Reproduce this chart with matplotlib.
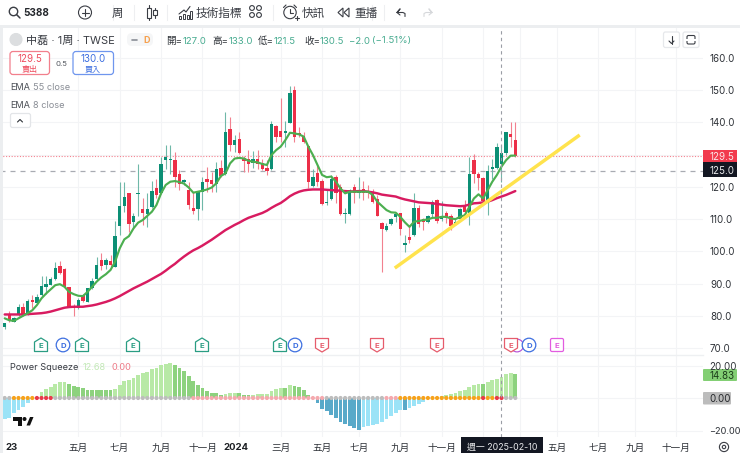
"""Weekly 5388 candles with EMA 8/55 and a Power Squeeze pane, TradingView look."""
import matplotlib
matplotlib.use("Agg")
import matplotlib.pyplot as plt
from matplotlib.patches import Circle, FancyBboxPatch, Polygon, Rectangle

plt.rcParams["font.family"] = ["Inter", "Noto Sans CJK TC", "DejaVu Sans"]

# weekly bars, oldest first
opens = [76.6, 80.5, 78.1, 80.1, 82.8, 80.5, 84.9, 84.0, 86.4, 88.8,
         89.7, 91.3, 95.4, 94.4, 89.0, 83.1, 82.3, 86.4, 84.4, 88.6,
         91.4, 97.3, 95.8, 97.1, 95.2, 107.8, 114.0, 118.0, 109.0, 117.7,
         113.0, 111.6, 113.8, 119.5, 118.0, 128.3, 128.4, 128.3, 124.0, 121.4,
         119.0, 113.3, 113.0, 118.5, 122.5, 122.1, 120.9, 125.9, 124.0, 138.0,
         133.0, 135.0, 129.0, 128.5, 127.5, 128.5, 127.5, 126.0, 125.4, 138.9,
         137.4, 136.6, 139.9, 150.0, 136.6, 135.8, 132.7, 120.3, 124.4, 121.9,
         114.9, 116.1, 123.0, 120.0, 111.6, 111.6, 120.0, 118.2, 119.3, 118.7,
         118.0, 116.2, 108.7, 106.6, 108.4, 110.6, 112.0, 102.1, 104.5, 105.0,
         113.5, 110.0, 109.2, 111.5, 115.9, 110.0, 112.0, 111.0, 108.6, 110.0,
         114.4, 111.8, 128.3, 123.9, 122.8, 115.2, 125.7, 126.0, 127.0, 130.4, 136.3, 134.5]
closes = [77.8, 78.4, 79.2, 82.6, 80.2, 84.6, 84.3, 85.9, 89.2, 89.8,
          91.4, 94.8, 93.3, 88.8, 82.8, 82.3, 84.9, 84.6, 88.6, 90.7,
          95.7, 95.4, 97.3, 95.9, 104.9, 114.0, 117.0, 108.5, 111.0, 118.0,
          112.0, 113.0, 118.6, 117.5, 127.0, 129.4, 128.6, 123.0, 121.0, 122.0,
          114.5, 112.5, 118.5, 121.6, 121.6, 120.9, 125.4, 123.5, 137.1, 133.0,
          134.5, 130.4, 128.0, 127.0, 128.5, 127.0, 125.4, 125.0, 139.5, 135.6,
          135.4, 137.4, 149.0, 135.6, 136.1, 134.0, 121.6, 123.0, 121.6, 114.7,
          115.4, 122.6, 118.0, 111.6, 112.0, 119.0, 118.0, 118.8, 118.0, 118.0,
          115.4, 111.0, 106.9, 107.9, 110.0, 111.5, 106.9, 102.6, 103.5, 113.5,
          108.6, 109.0, 111.0, 115.2, 109.4, 111.0, 110.4, 107.9, 109.0, 113.1,
          112.1, 123.9, 123.9, 122.8, 115.6, 124.9, 126.3, 132.5, 130.5, 136.9, 135.5, 129.5]
highs = [77.8, 81.5, 79.7, 83.8, 84.0, 85.1, 86.4, 86.9, 92.4, 92.4,
         92.1, 96.6, 97.1, 94.7, 89.0, 83.8, 85.4, 86.7, 88.6, 91.6,
         98.1, 99.5, 97.8, 98.8, 109.5, 121.6, 121.6, 118.0, 111.8, 127.0,
         116.4, 118.0, 121.9, 122.6, 129.4, 133.0, 133.0, 130.9, 125.2, 122.6,
         121.5, 118.5, 118.5, 123.2, 126.3, 124.7, 127.8, 128.3, 143.3, 141.6,
         136.0, 137.1, 129.6, 131.4, 131.2, 131.4, 128.8, 128.3, 140.5, 139.2,
         147.5, 140.5, 151.3, 151.3, 138.7, 137.1, 132.7, 125.7, 126.8, 122.6,
         119.0, 123.7, 123.7, 120.9, 113.3, 119.2, 120.9, 123.0, 121.9, 120.6,
         119.3, 117.5, 109.0, 108.7, 110.2, 112.0, 112.0, 105.2, 108.1, 118.0,
         114.4, 110.4, 111.2, 115.9, 116.2, 115.6, 112.5, 111.5, 110.0, 113.3,
         115.9, 129.4, 130.1, 124.7, 123.2, 126.8, 128.8, 133.5, 133.0, 136.9, 140.0, 140.0]
lows = [75.8, 78.1, 78.1, 80.0, 79.9, 80.2, 82.3, 83.8, 86.2, 86.9,
        89.5, 91.1, 92.9, 88.5, 82.6, 80.0, 82.1, 84.3, 84.2, 88.4,
        91.2, 94.2, 94.4, 95.2, 95.0, 105.0, 112.3, 106.0, 107.1, 111.0,
        108.2, 107.6, 113.5, 116.4, 117.8, 125.7, 124.0, 120.0, 119.0, 120.6,
        113.2, 111.5, 109.7, 112.8, 118.5, 118.5, 118.5, 123.2, 123.7, 131.1,
        130.9, 130.2, 124.7, 124.7, 126.0, 125.4, 125.2, 123.7, 125.2, 134.0,
        134.0, 132.5, 139.7, 134.0, 135.6, 133.5, 119.5, 120.0, 120.3, 114.4,
        114.4, 115.9, 114.9, 111.3, 108.7, 111.3, 114.9, 116.4, 115.9, 116.4,
        114.9, 111.0, 93.6, 106.3, 108.2, 109.2, 105.2, 99.7, 102.5, 104.8,
        107.6, 106.6, 108.7, 110.2, 108.7, 109.4, 108.7, 106.6, 108.1, 110.0,
        111.8, 108.2, 121.1, 119.0, 115.4, 111.2, 122.6, 125.7, 121.5, 129.9, 132.5, 129.4]

ema8 = [79.2, 78.6, 78.4, 79.2, 80.0, 80.8, 81.7, 83.3, 85.4, 86.9,
        88.2, 89.5, 89.8, 89.0, 87.4, 86.7, 86.2, 86.1, 87.4, 89.0,
        90.6, 91.9, 92.9, 94.2, 96.8, 100.9, 103.7, 104.7, 107.1, 108.9,
        109.7, 111.0, 112.3, 114.4, 118.0, 120.6, 121.6, 121.8, 121.5, 121.0,
        119.8, 118.2, 118.5, 118.8, 119.2, 119.8, 121.1, 123.4, 124.2, 127.3,
        128.8, 129.0, 128.8, 128.1, 127.8, 127.6, 127.1, 126.8, 129.9, 131.4,
        132.5, 134.5, 136.8, 136.6, 136.3, 135.6, 132.5, 129.9, 126.8, 123.7,
        123.0, 123.2, 121.6, 119.5, 118.0, 118.5, 118.5, 118.5, 118.5, 118.5,
        117.5, 115.4, 114.1, 112.8, 112.1, 112.0, 110.7, 109.0, 107.6, 109.2,
        109.4, 109.7, 109.9, 110.4, 110.4, 110.7, 110.7, 110.2, 110.0, 110.7,
        111.2, 113.8, 116.4, 117.7, 116.4, 119.0, 121.6, 123.7, 126.3, 128.3, 129.7, 129.7]
ema55 = [80.4, 80.4, 80.4, 80.4, 80.4, 80.5, 80.6, 80.7, 80.8, 81.0,
         81.3, 81.7, 82.1, 82.5, 82.7, 82.8, 82.8, 82.8, 83.0, 83.2,
         83.5, 83.9, 84.3, 84.8, 85.4, 86.1, 86.9, 87.7, 88.5, 89.2,
         89.9, 90.6, 91.4, 92.2, 93.0, 94.0, 95.1, 96.1, 97.3, 98.4,
         99.4, 100.3, 101.0, 101.8, 102.7, 103.6, 104.6, 105.6, 106.6, 107.4,
         108.2, 108.9, 109.7, 110.4, 110.9, 111.4, 111.9, 112.6, 113.5, 114.3,
         115.0, 116.0, 117.1, 117.9, 118.5, 118.9, 119.1, 119.2, 119.2, 119.2,
         119.1, 119.0, 118.9, 118.8, 118.7, 118.6, 118.6, 118.7, 118.7, 118.5,
         118.3, 118.0, 117.6, 117.4, 117.2, 117.0, 116.5, 116.1, 115.8, 115.5,
         115.2, 115.1, 115.0, 114.9, 114.7, 114.5, 114.3, 114.2, 114.1, 114.0,
         114.1, 114.5, 114.9, 115.0, 115.2, 115.4, 115.9, 116.5, 117.0, 117.5, 118.1, 118.7]

squeeze = [-13.2, -12.0, -9.5, -7.4, -5.8, -2.9, -0.5, 0.8, 3.7, 5.4,
           7.0, 8.9, 9.6, 9.7, 8.7, 7.4, 6.6, 6.0, 5.2, 4.7,
           4.7, 4.7, 4.7, 4.7, 5.4, 8.0, 10.3, 11.1, 12.2, 14.2,
           15.2, 16.3, 17.7, 18.3, 20.4, 21.0, 21.4, 20.2, 18.7, 16.9,
           13.8, 10.7, 8.0, 6.0, 4.3, 2.9, 2.9, 1.6, 2.3, 2.9,
           3.3, 2.9, 2.0, 1.6, 1.9, 2.3, 2.5, 2.7, 4.5, 5.8,
           6.0, 6.0, 8.0, 7.6, 7.0, 5.0, 1.9, 0.2, -2.9, -7.0,
           -7.8, -10.5, -12.6, -15.0, -16.0, -17.3, -18.3, -19.4, -17.7, -17.3,
           -16.7, -16.0, -14.6, -13.2, -11.1, -9.0, -7.4, -7.4, -6.4, -4.9,
           -3.7, -2.3, -0.2, 0.2, 0.8, 1.4, 2.1, 2.7, 3.3, 4.3,
           5.0, 7.0, 7.8, 8.4, 8.4, 10.0, 11.0, 11.7, 12.68, 14.6, 15.2, 14.83]
dot_runs = [("#bdbdbd", 2), ("#f7a21b", 5), ("#e8394a", 4), ("#bdbdbd", 30),
            ("#f5a9ae", 29), ("#bdbdbd", 13), ("#f5a9ae", 3), ("#f7a21b", 18),
            ("#e8394a", 1), ("#f7a21b", 2), ("#e8394a", 2), ("#bdbdbd", 3)]

price_ticks = [160, 150, 140, 130, 120, 110, 100, 90, 80, 70]
squeeze_ticks = [20, 0, -20]
month_ticks = [16, 25, 34, 43, 51, 60, 69, 77, 86, 95, 104, 112, 120, 129, 137, 146]
month_labels = {16: "五月", 25: "七月", 34: "九月", 43: "十一月", 51: "2024", 60: "三月",
                69: "五月", 77: "七月", 86: "九月", 95: "十一月",
                120: "五月", 129: "七月", 137: "九月", 146: "十一月"}
trend_x = [84.8, 125.0]
trend_y = [94.8, 136.1]
green_e = [41, 82, 133, 202, 280]
blue_d = [63, 295, 529]
red_e = [322, 377, 437, 511]

UP, DOWN = "#0c8f75", "#ec2f48"
W, H = 740, 453
GRID = "#f3f4f6"
TXT = "#2e3238"
NUM = 7.0  # scale labels, pt

fig = plt.figure(figsize=(W / 100, H / 100), dpi=100, facecolor="white")


def rect_axes(x0, y0, x1, y1):
    ax = fig.add_axes([x0 / W, 1 - y1 / H, (x1 - x0) / W, (y1 - y0) / H])
    ax.set_facecolor("none")
    for s in ax.spines.values():
        s.set_visible(False)
    ax.tick_params(left=False, bottom=False, labelleft=False, labelbottom=False)
    return ax


def bar_x(px):
    return (px - 4.7) / 4.6


n = len(closes)
idx = list(range(n))

# price pane: 3.222 px per unit, 160 sits at y=58
ax = rect_axes(0, 28, 703, 354)
ax.set_xlim(bar_x(0), bar_x(703))
ax.set_ylim(160 - (354 - 58) / 3.222, 160 + 30 / 3.222)
ax.set_yticks(price_ticks)
ax.set_xticks(month_ticks)
ax.grid(True, color=GRID, lw=0.8)
ax.set_axisbelow(True)

colors = [UP if c >= o else DOWN for o, c in zip(opens, closes)]
wick_colors = ["#6fb8a8" if c == UP else "#f2808f" for c in colors]
ax.vlines(idx, lows, highs, colors=wick_colors, lw=0.8, zorder=2)
ax.bar(idx, [max(abs(c - o), 0.35) for o, c in zip(opens, closes)],
       bottom=[min(o, c) for o, c in zip(opens, closes)],
       width=0.78, color=colors, zorder=3)
ax.plot(idx, ema55, color="#d81b60", lw=1.75, zorder=4, solid_capstyle="round")
ax.plot(idx, ema8, color="#4caf50", lw=1.55, zorder=5, solid_capstyle="round")
ax.plot(trend_x, trend_y, color="#ffe34d", lw=2.5, zorder=6, solid_capstyle="butt")
ax.axhline(closes[-1], color="#f4828f", lw=0.8, ls=(0, (1, 1.5)), zorder=1)
ax.axhline(125.0, color="#a8abb2", lw=0.9, ls=(0, (4, 4)), zorder=1)
ax.axvline(108, color="#9a9da5", lw=0.8, ls=(0, (3, 3)), zorder=7)

# squeeze pane: 1.625 px per unit, zero at y=398
sq = rect_axes(0, 354, 703, 437)
sq.set_xlim(bar_x(0), bar_x(703))
sq.set_ylim((398 - 437) / 1.625, (398 - 354) / 1.625)
sq.set_yticks(squeeze_ticks)
sq.set_xticks(month_ticks)
sq.grid(True, color=GRID, lw=0.8)
sq.set_axisbelow(True)


def squeeze_color(i):
    v = squeeze[i]
    prev = squeeze[i - 1] if i else v - 1
    if v >= 0:
        return "#b8e9a6" if v > prev else "#8dd27e"
    return "#9be3f7" if v > prev else "#58a9c9"


sq.bar(idx, squeeze, width=0.82, color=[squeeze_color(i) for i in idx], zorder=2)
dot_colors = [c for c, k in dot_runs for _ in range(k)]
sq.scatter(idx, [0] * n, s=9, c=dot_colors, linewidths=0, zorder=3)
sq.axvline(108, color="#9a9da5", lw=0.8, ls=(0, (3, 3)), zorder=4)

# chrome drawn in pixel coordinates on top of the panes
ui = fig.add_axes([0, 0, 1, 1], zorder=10)
ui.set_xlim(0, W)
ui.set_ylim(H, 0)
ui.axis("off")
ui.set_facecolor("none")

ui.add_patch(Rectangle((0, 25), W, 3, color="#eceef0", lw=0))
ui.add_patch(Rectangle((0, 25), 3, H, color="#eceef0", lw=0))
ui.plot([3, 703], [354.5, 354.5], color="#eef0f2", lw=1)
for sx in [113, 134, 167, 273, 372, 384]:
    ui.plot([sx, sx], [5, 20], color="#eeeff1", lw=0.8)


def label(x, y, s, size=7, color=TXT, ha="left", weight="normal", **kw):
    return ui.text(x, y, s, fontsize=size, color=color, ha=ha, va="center_baseline",
                   fontweight=weight, **kw)


def ring(x, y, r, color="#3a3d44", lw=0.8, fc="none"):
    ui.add_patch(Circle((x, y), r, fc=fc, ec=color, lw=lw))


def line(xs, ys, color="#3a3d44", lw=0.8):
    ui.plot(xs, ys, color=color, lw=lw, solid_capstyle="round")


def box(x0, y0, x1, y1, fc="white", ec="none", lw=0.9, r=2.5):
    ui.add_patch(FancyBboxPatch((x0 + r, y0 + r), x1 - x0 - 2 * r, y1 - y0 - 2 * r,
                                boxstyle=f"round,pad={r}", fc=fc, ec=ec, lw=lw))


# toolbar
ring(13.5, 11.5, 4.2, lw=1.0)
line([16.6, 20], [14.6, 18], lw=1.1)
label(23, 12.5, "5388", 7.2, "#24272c", weight="bold")
ring(85, 12.5, 6.5)
line([81.5, 88.5], [12.5, 12.5])
line([85, 85], [9, 16])
label(117.5, 12.5, "周", 8.2, "#3a3d44", ha="center")
for cx, y0, y1, b0, b1 in [(148.5, 5, 20, 7.5, 17.5), (155, 8, 18, 10, 15)]:
    line([cx, cx], [y0, y1])
    ui.add_patch(Rectangle((cx - 2, b0), 4, b1 - b0, fc="white", ec="#3a3d44", lw=0.8, zorder=3))
line([179, 184, 186, 190], [14, 10, 12, 6.5])
for bx, bh in [(179, 3), (183, 5), (187, 4), (190, 8)]:
    ui.add_patch(Rectangle((bx, 18.5 - bh), 2.2, bh, fc="none", ec="#3a3d44", lw=0.7))
label(196, 12.5, "技術指標", 8.4, "#3a3d44")
for bx, by in [(251.5, 8), (258.5, 8), (251.5, 15), (258.5, 15)]:
    ring(bx + 0.5, by, 2.4)
ring(290, 12.5, 6.2)
line([290, 290, 293], [9, 13, 13])
line([295, 299], [18, 18])
line([297, 297], [16, 20])
line([283.5, 286], [7.5, 5])
line([294, 296.5], [5, 7.5])
label(302, 12.5, "快訊", 8.4, "#3a3d44")
for sx in [343, 349]:
    ui.add_patch(Polygon([[sx, 8], [sx, 17], [sx - 5, 12.5]], closed=True, fc="none",
                         ec="#3a3d44", lw=0.8))
label(354, 12.5, "重播", 8.4, "#3a3d44")
line([397, 400, 397, 403, 405, 405], [12.5, 9, 12.5, 12.5, 13.5, 16.5])
line([397, 400], [12.5, 15])
line([432, 429, 432, 426, 424, 424], [12.5, 9, 12.5, 12.5, 13.5, 16.5], color="#d6d8db")
line([432, 429], [12.5, 15], color="#d6d8db")

# legend row
ring(16, 39.5, 6, color="#dcdee0", fc="#dcdee0")
label(26, 39.5, "中磊 · 1周 · TWSE", 8.0, "#3a3d44")
box(127, 33, 153, 46, fc="#f5f6f7", r=5)
line([132, 137], [39.5, 39.5], color="#8a8e96", lw=1.2)
label(147, 39.5, "D", 6.4, "#f6a04d", ha="center", weight="bold")
for x, s, c in [(166, "開=", TXT), (182.5, "127.0", "#46ab8f"), (212, "高=", TXT),
                (228.5, "133.0", "#46ab8f"), (258, "低=", TXT), (274, "121.5", "#46ab8f"),
                (304, "收=", TXT), (320, "130.5", "#46ab8f"), (349.5, "−2.0", "#46ab8f"),
                (372, "(−1.51%)", "#46ab8f")]:
    label(x, 40, s, 6.9, c)

box(10, 51.5, 49.5, 74.5, ec="#f27f8c", r=3)
label(30, 58.5, "129.5", 7.0, "#ee4d5f", ha="center")
label(30, 68.5, "賣出", 5.8, "#ee4d5f", ha="center")
label(61, 63, "0.5", 5.6, "#555960", ha="center")
box(73, 51.5, 113.5, 74.5, ec="#6f96ee", r=3)
label(93, 58.5, "130.0", 7.0, "#3d6fe0", ha="center")
label(93, 68.5, "買入", 5.8, "#3d6fe0", ha="center")
label(10, 87, "EMA", 6.6, "#4a4e55")
label(33, 87, "55 close", 6.6, "#8a8e96")
label(10, 104, "EMA", 6.6, "#4a4e55")
label(33, 104, "8 close", 6.6, "#8a8e96")
box(10.5, 113.5, 30.5, 127.5, ec="#e3e5e8", r=2)
line([17.5, 20, 22.5], [122, 119.5, 122], color="#2e3238")

# chart buttons, top right
box(663.5, 32, 679.5, 47.5, ec="#e6e8eb", r=2)
line([671.5, 671.5], [36, 43.5])
line([669, 671.5, 674], [41, 43.5, 41])
box(683, 32, 699, 47.5, ec="#e6e8eb", r=2)
ui.add_patch(FancyBboxPatch((688.5, 37), 5, 5.5, boxstyle="round,pad=1.5", fc="none",
                            ec="#3a3d44", lw=0.8))
ui.add_patch(Rectangle((686, 38.8), 10, 2, fc="white", ec="none", zorder=5))

# price scale
for p in price_ticks:
    if p == 130:
        continue
    label(710, 58 + (160 - p) * 3.222, f"{p:.1f}", NUM, TXT)
ui.add_patch(Rectangle((703, 150), 34, 12, fc="#f23a4d", lw=0))
label(709.5, 156, "129.5", NUM, "#fbe4e7")
ui.add_patch(Rectangle((703, 162), 34, 15, fc="#131722", lw=0))
label(709.5, 170, "125.0", NUM, "#e8e9eb")

# squeeze scale
label(709, 365.5, "20.00", NUM, TXT)
label(709, 430.5, "−20.00", 6.6, TXT)
box(703, 369, 737, 381, fc="#83cf74", r=1)
label(709, 375, "14.83", NUM, "#1c3d1a")
box(703, 392, 731, 404.5, fc="#bcbcbc", r=1)
label(709, 398.5, "0.00", NUM, "#26282c")
label(10, 367, "Power Squeeze", 6.6, "#3a3d44")
label(83, 367, "12.68", 6.6, "#c2e8b6")
label(112, 367, "0.00", 6.6, "#ee7b88")

# TradingView watermark
ui.add_patch(Polygon([[12.5, 417], [22, 417], [22, 425.5], [17.5, 425.5], [17.5, 421], [12.5, 421]],
                     closed=True, fc="#111", lw=0))
ring(24.5, 419, 2, color="#111", fc="#111", lw=0)
ui.add_patch(Polygon([[26.5, 425.5], [30, 417], [33.5, 417], [30, 425.5]], closed=True, fc="#111", lw=0))


# event flags
def flag(x, kind, color, fc="white"):
    y = 345
    if kind == "up":
        pts = [[x - 6.5, y + 6.5], [x + 6.5, y + 6.5], [x + 6.5, y - 3], [x, y - 7], [x - 6.5, y - 3]]
    else:
        pts = [[x - 6.5, y - 6.5], [x + 6.5, y - 6.5], [x + 6.5, y + 3], [x, y + 7], [x - 6.5, y + 3]]
    ui.add_patch(Polygon(pts, closed=True, fc=fc, ec=color, lw=0.9, joinstyle="round", zorder=5))
    label(x, y + 0.3, "E", 5.6, color, ha="center", weight="bold", zorder=6)


def flag_d(x):
    ui.add_patch(Circle((x, 345), 6.8, fc="white", ec="#3d6fe0", lw=0.9, zorder=5))
    label(x, 345.3, "D", 5.6, "#3d6fe0", ha="center", weight="bold", zorder=6)


ring(517, 345.5, 6.4, color="#b14ad6", fc="white")
for x in green_e:
    flag(x, "up", "#2a9d83")
for x in blue_d:
    flag_d(x)
for x in red_e:
    flag(x, "down", "#e65c6c")
box(550.5, 338.5, 563.5, 351.5, ec="#e25ce0", r=1.5)
label(557, 345.3, "E", 5.6, "#e25ce0", ha="center", weight="bold")

# time axis
for t in month_ticks:
    if t in month_labels:
        is_year = month_labels[t] == "2024"
        label(4.7 + 4.6 * t - (3 if is_year else 0), 447, month_labels[t], 6.9,
              "#1d2024" if is_year else TXT, ha="center", weight="bold" if is_year else "normal")
label(5, 447, "23", 6.9, "#1d2024", weight="bold")
ui.add_patch(Rectangle((461, 437), 82, 16, fc="#131722", lw=0))
label(502, 446, "週一 2025-02-10", 6.4, "#e8e9eb", ha="center")
ring(724, 447, 4.6)
ring(724, 447, 1.7)

fig.savefig("out.png", dpi=100)
